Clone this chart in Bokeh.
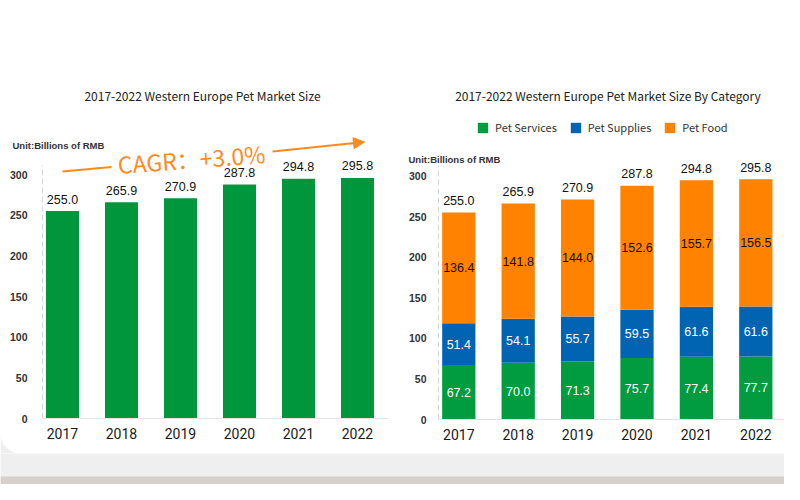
import numpy as np
from bokeh.plotting import figure
from bokeh.models import (Range1d, FixedTicker, ColumnDataSource, Legend, LegendItem,
                          Arrow, NormalHead)
from bokeh.layouts import row, column
from bokeh.core.properties import value
from bokeh.embed import file_html
from bokeh.resources import INLINE

# ---------------- data ----------------
years = ["2017", "2018", "2019", "2020", "2021", "2022"]
total = [255.0, 265.9, 270.9, 287.8, 294.8, 295.8]
services = [67.2, 70.0, 71.3, 75.7, 77.4, 77.7]
supplies = [51.4, 54.1, 55.7, 59.5, 61.6, 61.6]
food = [136.4, 141.8, 144.0, 152.6, 155.7, 156.5]
category_names = ["Pet Services", "Pet Supplies", "Pet Food"]
y_ticks = [0, 50, 100, 150, 200, 250, 300]
title_left = "2017-2022 Western Europe Pet Market Size"
title_right = "2017-2022 Western Europe Pet Market Size By Category"
unit_text = "Unit:Billions of RMB"
cagr_text = "CAGR：+3.0%"

# ---------------- styles ----------------
GREEN_L = "#00963b"
GREEN = "#009c3f"
BLUE = "#0064b3"
ORANGE = "#ff8200"
ANNOT = "#ff8a1c"
PAGE_BG = "#f0efef"
CJK = "Noto Sans CJK SC"
NUM = "Liberation Sans"
YEARF = "'Liberation Sans Narrow', 'Roboto'"
H = 453


def make_panel(page_left, fig_w, axis_px, frame_r, first_c, step, base, per_unit):
    """Frame covers the whole figure (except a right border); both axes are pinned
    inside it so that texts outside the plotting area are not clipped."""
    mr = page_left + fig_w - frame_r
    x0 = -(first_c - page_left) / step
    x1 = x0 + (frame_r - page_left) / step
    y0 = -(H - base) / per_unit
    y1 = base / per_unit
    fx = lambda px: x0 + (px - page_left) / step
    fy = lambda py: (base - py) / per_unit

    p = figure(width=fig_w, height=H, x_range=Range1d(x0, x1), y_range=Range1d(y0, y1),
               output_backend="svg", toolbar_location=None, title=None,
               min_border_left=0, min_border_right=int(round(mr)),
               min_border_bottom=0, min_border_top=0)
    p.outline_line_color = None
    p.grid.visible = False
    p.background_fill_color = "white"
    p.border_fill_color = "white"

    xa = p.xaxis[0]
    xa.fixed_location = 0
    xa.ticker = FixedTicker(ticks=list(range(len(years))))
    xa.major_label_overrides = {i: y for i, y in enumerate(years)}
    xa.bounds = (fx(axis_px), x1)
    xa.axis_line_color = "#e4e4e4"
    xa.axis_line_width = 1
    xa.major_tick_line_color = None
    xa.minor_tick_line_color = None
    xa.major_label_standoff = 3
    xa.major_label_text_font = YEARF
    xa.major_label_text_font_size = "14px"
    xa.major_label_text_color = "#1a1a1a"

    ya = p.yaxis[0]
    ya.fixed_location = fx(axis_px)
    ya.ticker = FixedTicker(ticks=y_ticks)
    ya.bounds = (0, (base - 165) / per_unit)
    ya.axis_line_color = "#d8d8d8"
    ya.axis_line_dash = "6 3"
    ya.major_tick_line_color = None
    ya.minor_tick_line_color = None
    ya.major_label_text_font = NUM
    ya.major_label_text_font_style = "bold"
    ya.major_label_text_font_size = "10.5px"
    ya.major_label_text_color = "#333333"
    return p, fx, fy, per_unit


xs = list(range(len(years)))

# ---------------- left chart ----------------
p1, fx1, fy1, u1 = make_panel(0, 400, 42, 388, 62, 59, 418, 244 / 300)
p1.yaxis[0].major_label_standoff = 9
src1 = ColumnDataSource(dict(x=xs, total=total, lab=[f"{v:.1f}" for v in total],
                             ly=[v + 12 / u1 for v in total]))
p1.vbar(x="x", top="total", width=0.56, source=src1, fill_color=GREEN_L, line_color=None)
p1.text(x="x", y="ly", text="lab", source=src1, text_font=value(NUM), text_font_size="12.5px",
        text_align="center", text_baseline="middle", text_color="#111111")
p1.text(x=[fx1(202)], y=[fy1(95)], text=[title_left], text_font=value(CJK),
        text_font_size="12px", text_align="center", text_baseline="middle", text_color="#222222")
p1.text(x=[fx1(12)], y=[fy1(145)], text=[unit_text], text_font=value(NUM), text_font_style="bold",
        text_font_size="9.5px", text_align="left", text_baseline="middle", text_color="#333333")
# CAGR annotation
p1.segment(x0=[fx1(62)], y0=[fy1(171)], x1=[fx1(111)], y1=[fy1(166.5)],
           line_color=ANNOT, line_width=2)
p1.text(x=[fx1(191)], y=[fy1(158)], text=[cagr_text], text_font=value(CJK),
        text_font_size="23px", text_align="center", text_baseline="middle",
        text_color=ANNOT, angle=0.075)
p1.add_layout(Arrow(end=NormalHead(size=11, fill_color=ANNOT, line_color=ANNOT),
                    x_start=fx1(272), y_start=fy1(151), x_end=fx1(364), y_end=fy1(141.5),
                    line_color=ANNOT, line_width=2))
# rounded bottom-left corner of the white card
R = 20
t = np.linspace(np.pi, np.pi / 2, 12)
cx = [fx1(0)] + [fx1(R + R * np.cos(a)) for a in t][::-1] + [fx1(0)]
cy = [fy1(H)] + [fy1(H - R + R * np.sin(a)) for a in t][::-1] + [fy1(H - R)]
cx = [fx1(0)] + [fx1(R + R * np.cos(a)) for a in t] + [fx1(0)]
cy = [fy1(H - R)] + [fy1(H - R + R * np.sin(a)) for a in t] + [fy1(H)]
p1.patch(x=cx, y=cy, fill_color=PAGE_BG, line_color=None)

# ---------------- right chart ----------------
p2, fx2, fy2, u2 = make_panel(400, 384, 438, 784, 458.3, 59.4, 419, 243.6 / 300)
p2.yaxis[0].major_label_standoff = 6
stack_src = ColumnDataSource(dict(x=xs, services=services, supplies=supplies, food=food))
rends = p2.vbar_stack(["services", "supplies", "food"], x="x", width=0.56,
                      color=[GREEN, BLUE, ORANGE], line_color=None, source=stack_src)

seg_x, seg_y, seg_t, seg_c = [], [], [], []
for i in xs:
    b = 0.0
    for vals, col in ((services, "white"), (supplies, "white"), (food, "#111111")):
        seg_x.append(i)
        seg_y.append(b + vals[i] / 2)
        seg_t.append(f"{vals[i]:.1f}")
        seg_c.append(col)
        b += vals[i]
p2.text(x=seg_x, y=seg_y, text=seg_t, text_color=seg_c, text_font=value(NUM),
        text_font_size="12.5px", text_align="center", text_baseline="middle")
src2 = ColumnDataSource(dict(x=xs, lab=[f"{v:.1f}" for v in total],
                             ly=[v + 12 / u2 for v in total]))
p2.text(x="x", y="ly", text="lab", source=src2, text_font=value(NUM), text_font_size="12.5px",
        text_align="center", text_baseline="middle", text_color="#111111")
p2.text(x=[fx2(607.5)], y=[fy2(95)], text=[title_right], text_font=value(CJK),
        text_font_size="12px", text_align="center", text_baseline="middle", text_color="#222222")
p2.text(x=[fx2(408)], y=[fy2(159)], text=[unit_text], text_font=value(NUM), text_font_style="bold",
        text_font_size="9.5px", text_align="left", text_baseline="middle", text_color="#333333")

legend = Legend(items=[LegendItem(label=n, renderers=[r]) for n, r in zip(category_names, rends)],
                orientation="horizontal", location=(76, 318), glyph_width=13, glyph_height=13,
                label_height=13, label_width=10, label_standoff=6, spacing=12, padding=0, margin=0,
                border_line_color=None, background_fill_alpha=0,
                label_text_font=CJK, label_text_font_size="11px", label_text_color="#333333")
p2.add_layout(legend)

# ---------------- bottom strip (page background under the card) ----------------
s = figure(width=784, height=31, x_range=Range1d(0, 1), y_range=Range1d(0, 31),
           output_backend="svg", toolbar_location=None, title=None,
           x_axis_location=None, y_axis_location=None, min_border=0)
s.grid.visible = False
s.outline_line_color = None
s.background_fill_color = PAGE_BG
s.border_fill_color = PAGE_BG
s.quad(left=[0], right=[1], bottom=[0], top=[8], color="#d5d0cc", line_color=None)

layout = column(row(p1, p2, spacing=0), s, spacing=0)
open("out.html", "w").write(file_html(layout, INLINE))
